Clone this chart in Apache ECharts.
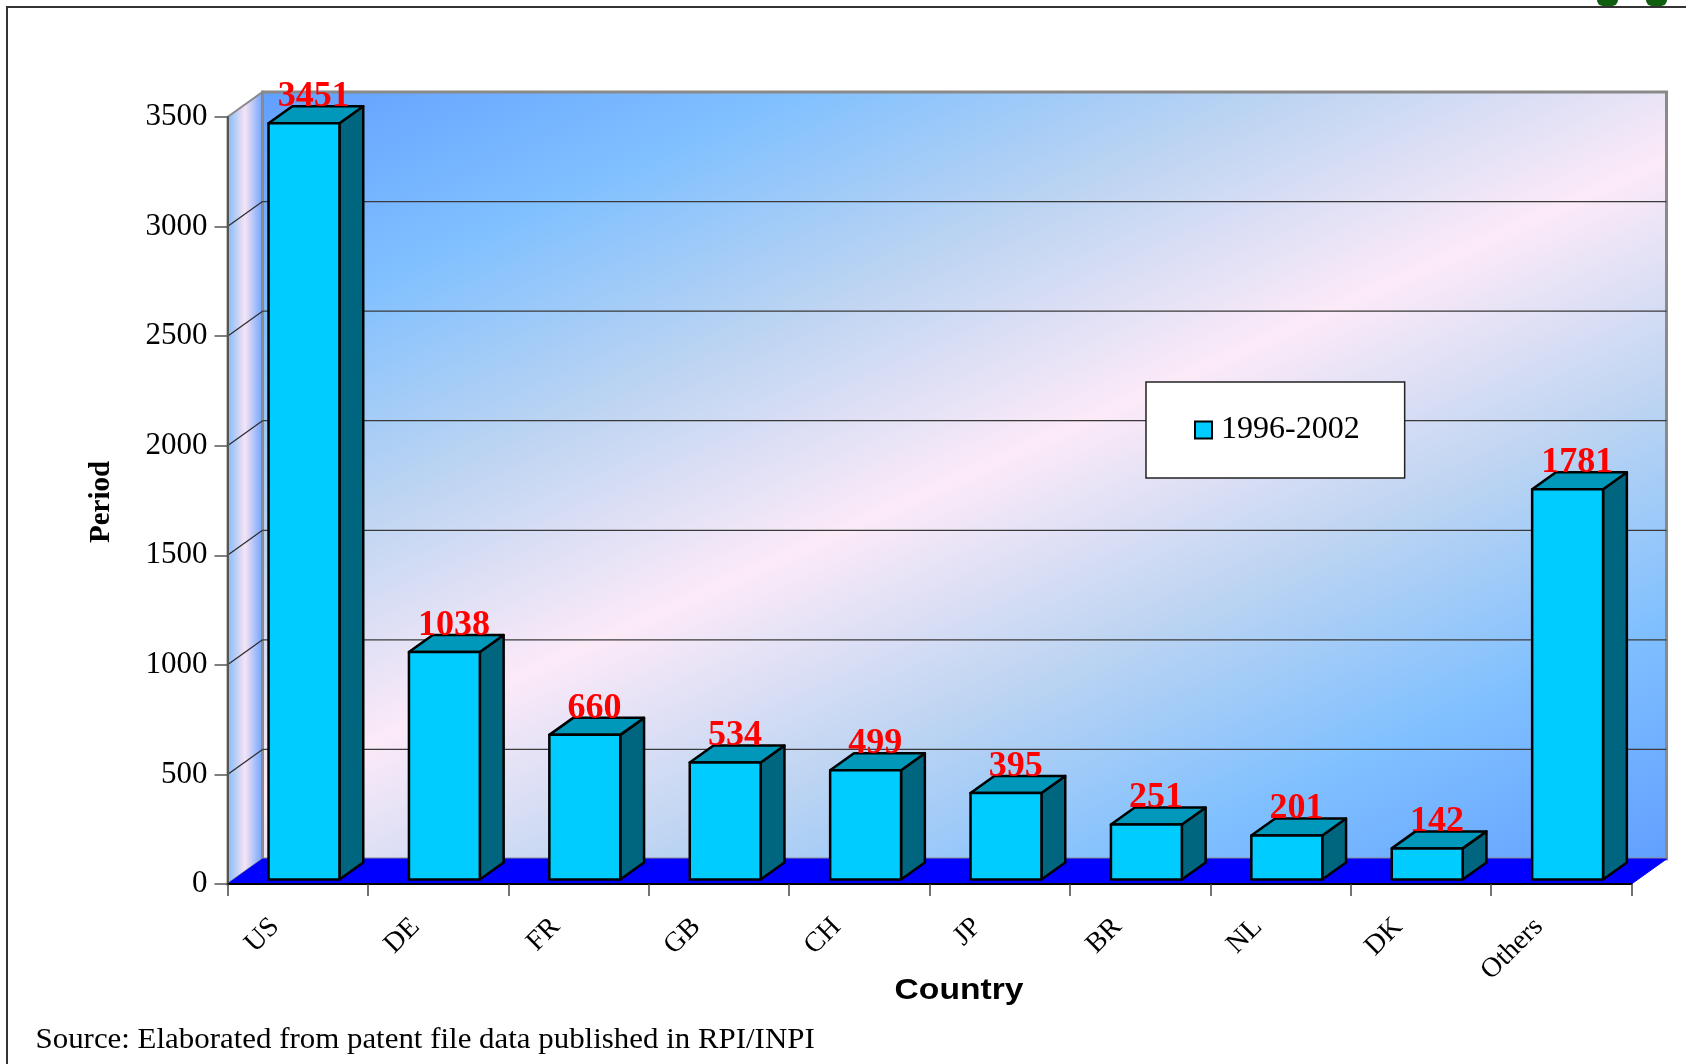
<!DOCTYPE html>
<html>
<head>
<meta charset="utf-8">
<script src="https://cdn.jsdelivr.net/npm/echarts@6/dist/echarts.min.js"></script>
<style>
  html, body { margin: 0; padding: 0; background: #ffffff; }
  #chart { width: 1686px; height: 1064px; }
</style>
</head>
<body>
<div id="chart"></div>
<script>
// Patent files by applicant country, 1996-2002
const categories = ['US', 'DE', 'FR', 'GB', 'CH', 'JP', 'BR', 'NL', 'DK', 'Others'];
const patents = [3451, 1038, 660, 534, 499, 395, 251, 201, 142, 1781];
const yTicks = [0, 500, 1000, 1500, 2000, 2500, 3000, 3500];
const seriesName = '1996-2002';

// Oblique projection used for the pseudo-3D look
const DEPTH_X = 35;      // horizontal shift from the front plane to the back wall
const DEPTH_Y = -25;     // vertical shift from the front plane to the back wall
const BAR_FRONT = 0.18;  // depth fraction of the bar front face
const BAR_BACK = 0.86;   // depth fraction of the bar back face
const BAR_WIDTH = 0.505; // bar width as a share of the category band

const chart = echarts.init(document.getElementById('chart'), null, { renderer: 'canvas' });

function renderWalls(params, api) {
  const band = api.size([1, 0])[0];
  const x0 = api.coord([0, 0])[0] - band / 2;
  const x1 = api.coord([categories.length - 1, 0])[0] + band / 2;
  const yMax = yTicks[yTicks.length - 1];
  const yTop = api.coord([0, yMax])[1];
  const yBase = api.coord([0, 0])[1];

  const bx = x0 + DEPTH_X, by = yTop + DEPTH_Y;
  const bw = x1 - x0, bh = yBase - yTop;

  // diagonal gradient across the back wall
  const cx = bx + bw / 2, cy = by + bh / 2;
  const ux = 0.41, uy = 0.91;
  const half = Math.abs(bw / 2 * ux) + Math.abs(bh / 2 * uy);
  const wallFill = new echarts.graphic.LinearGradient(
    cx - half * ux, cy - half * uy, cx + half * ux, cy + half * uy,
    [
      { offset: 0, color: '#62A0FF' },
      { offset: 0.17, color: '#80C0FF' },
      { offset: 0.33, color: '#BCD4F2' },
      { offset: 0.5, color: '#FCEAF8' },
      { offset: 0.67, color: '#BCD4F2' },
      { offset: 0.83, color: '#80C0FF' },
      { offset: 1, color: '#62A0FF' }
    ], true);

  const sideFill = new echarts.graphic.LinearGradient(0, 0, 1, 0, [
    { offset: 0, color: '#7DB8F8' },
    { offset: 0.5, color: '#F6E4F4' },
    { offset: 1, color: '#68A0FF' }
  ]);

  const children = [];
  // side wall
  children.push({
    type: 'polygon',
    shape: { points: [[x0, yTop], [bx, by], [bx, yBase + DEPTH_Y], [x0, yBase]] },
    style: { fill: sideFill, stroke: '#8A8A8A', lineWidth: 2 }
  });
  // back wall
  children.push({
    type: 'rect',
    shape: { x: bx, y: by, width: bw, height: bh },
    style: { fill: wallFill, stroke: '#8A8A8A', lineWidth: 3 }
  });
  // gridlines on the back wall and on the side wall
  yTicks.forEach(function (v) {
    if (v === 0 || v === yMax) return;
    const y = api.coord([0, v])[1];
    children.push({
      type: 'line',
      shape: { x1: bx, y1: y + DEPTH_Y, x2: bx + bw, y2: y + DEPTH_Y },
      style: { stroke: '#3A3A3A', lineWidth: 1.2 }
    });
    children.push({
      type: 'line',
      shape: { x1: x0, y1: y, x2: bx, y2: y + DEPTH_Y },
      style: { stroke: '#2A2A2A', lineWidth: 1.2 }
    });
  });
  // floor
  children.push({
    type: 'polygon',
    shape: { points: [[x0, yBase], [x1, yBase], [x1 + DEPTH_X, yBase + DEPTH_Y], [bx, yBase + DEPTH_Y]] },
    style: { fill: '#0000FF', stroke: '#0000FF', lineWidth: 1 }
  });
  return { type: 'group', children: children };
}

function renderBar(params, api) {
  const idx = api.value(0);
  const val = api.value(1);
  const top = api.coord([idx, val]);
  const base = api.coord([idx, 0]);
  const band = api.size([1, 0])[0];
  const w = band * BAR_WIDTH;

  const fx = top[0] - w / 2 + BAR_FRONT * DEPTH_X;
  const yt = top[1] + BAR_FRONT * DEPTH_Y;
  const yb = base[1] + BAR_FRONT * DEPTH_Y;
  const dx = (BAR_BACK - BAR_FRONT) * DEPTH_X;
  const dy = (BAR_BACK - BAR_FRONT) * DEPTH_Y;
  const edge = { stroke: '#000000', lineWidth: 2.5, lineJoin: 'round' };

  return {
    type: 'group',
    children: [
      {
        type: 'polygon',
        shape: { points: [[fx + w, yt], [fx + w + dx, yt + dy], [fx + w + dx, yb + dy], [fx + w, yb]] },
        style: Object.assign({ fill: '#00657F' }, edge)
      },
      {
        type: 'polygon',
        shape: { points: [[fx, yt], [fx + w, yt], [fx + w + dx, yt + dy], [fx + dx, yt + dy]] },
        style: Object.assign({ fill: '#0098BA' }, edge)
      },
      {
        type: 'rect',
        shape: { x: fx, y: yt, width: w, height: yb - yt },
        style: Object.assign({ fill: '#00CCFF' }, edge)
      },
      {
        type: 'text',
        x: top[0] + 16,
        y: top[1] - 31,
        z2: 10,
        style: {
          text: String(val),
          fill: '#FF0000',
          font: 'bold 36px "Liberation Serif"',
          align: 'center',
          verticalAlign: 'middle'
        }
      }
    ]
  };
}

const option = {
  animation: false,
  backgroundColor: '#ffffff',
  grid: { left: 227.5, right: 54.5, top: 117, bottom: 180, containLabel: false },
  legend: {
    data: [{
      name: seriesName,
      icon: 'rect',
      itemStyle: { color: '#00CCFF', borderColor: '#000000', borderWidth: 2 }
    }],
    selectedMode: false,
    left: 1146,
    top: 382,
    padding: [32, 45, 32, 48],
    backgroundColor: '#ffffff',
    borderColor: '#222222',
    borderWidth: 1.5,
    borderRadius: 0,
    itemWidth: 17,
    itemHeight: 17,
    textStyle: { fontFamily: 'Liberation Serif', fontSize: 32, color: '#000000', padding: [0, 0, 0, 4] }
  },
  xAxis: {
    type: 'category',
    data: categories,
    boundaryGap: true,
    z: 5,
    axisLine: { show: true, lineStyle: { color: '#000000', width: 2 } },
    axisTick: { show: true, length: 12, lineStyle: { color: '#444444', width: 1.5 } },
    axisLabel: {
      interval: 0,
      rotate: 45,
      fontFamily: 'Liberation Serif',
      fontSize: 28,
      color: '#000000',
      margin: 16,
      padding: [0, 32, 0, 0]
    },
    splitLine: { show: false }
  },
  yAxis: {
    type: 'value',
    min: yTicks[0],
    max: yTicks[yTicks.length - 1],
    interval: yTicks[1] - yTicks[0],
    z: 5,
    axisLine: { show: true, lineStyle: { color: '#555555', width: 2 } },
    axisTick: { show: true, length: 13, lineStyle: { color: '#555555', width: 1.5 } },
    axisLabel: {
      fontFamily: 'Liberation Serif',
      fontSize: 31,
      color: '#000000',
      margin: 20,
      formatter: function (v) { return String(v); }
    },
    splitLine: { show: false }
  },
  series: [
    {
      type: 'custom',
      name: 'walls',
      z: 1,
      silent: true,
      clip: false,
      renderItem: renderWalls,
      data: [[0, 0]]
    },
    {
      type: 'custom',
      name: seriesName,
      z: 2,
      clip: false,
      itemStyle: { color: '#00CCFF' },
      renderItem: renderBar,
      encode: { x: 0, y: 1 },
      data: categories.map(function (c, i) { return [i, patents[i]]; })
    }
  ],
  graphic: [
    {
      type: 'polyline',
      shape: { points: [[7, 1064], [7, 7], [1686, 7]] },
      style: { stroke: '#333333', lineWidth: 2, fill: null }
    },
    { type: 'rect', shape: { x: 1597, y: -8, width: 21, height: 14, r: 6 }, style: { fill: '#0E5E0E' } },
    { type: 'rect', shape: { x: 1646, y: -8, width: 21, height: 14, r: 6 }, style: { fill: '#0E5E0E' } },
    {
      type: 'text',
      x: 102,
      y: 502,
      rotation: Math.PI / 2,
      style: {
        text: 'Period',
        font: 'bold 29px "Liberation Serif"',
        fill: '#000000',
        align: 'center',
        verticalAlign: 'middle'
      }
    },
    {
      type: 'text',
      x: 959,
      y: 991,
      scaleX: 1.12,
      style: {
        text: 'Country',
        font: 'bold 30px "Liberation Sans"',
        fill: '#000000',
        align: 'center',
        verticalAlign: 'middle'
      }
    },
    {
      type: 'text',
      x: 35.5,
      y: 1040,
      scaleX: 1.03,
      style: {
        text: 'Source: Elaborated from patent file data published in RPI/INPI',
        font: '30px "Liberation Serif"',
        fill: '#000000',
        align: 'left',
        verticalAlign: 'middle'
      }
    }
  ]
};

chart.setOption(option);
</script>
</body>
</html>
